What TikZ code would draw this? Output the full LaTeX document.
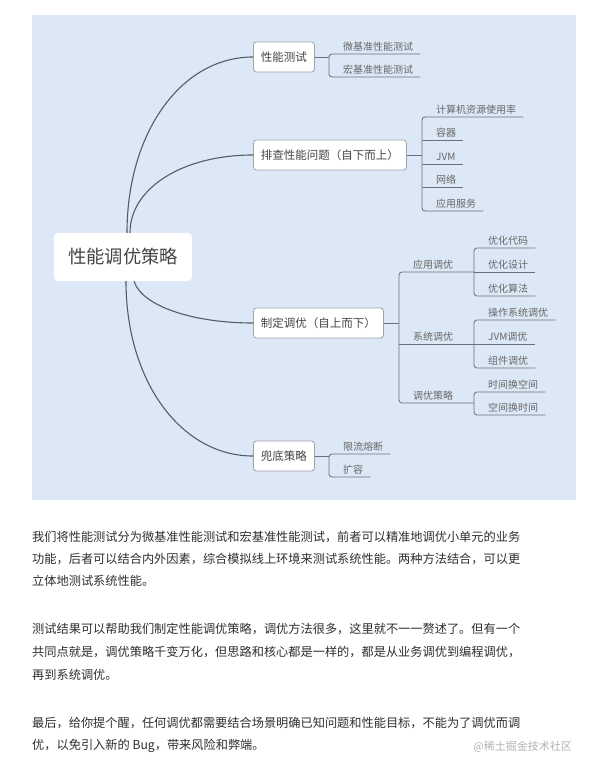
\documentclass[tikz,border=0pt]{standalone}
\usepackage{fontspec}
\setmainfont{Noto Sans CJK SC}
\usetikzlibrary{calc}

\definecolor{mapbg}{HTML}{DDE8F6}
\definecolor{mapline}{HTML}{525D68}
\definecolor{forkline}{HTML}{68727E}
\definecolor{boxline}{HTML}{9CA3AB}
\definecolor{boxtext}{HTML}{444444}
\definecolor{leaftext}{HTML}{666666}
\definecolor{bodytext}{HTML}{2E2E2E}

\tikzset{
  rootbox/.style={fill=white, rounded corners=4pt, minimum width=138pt, minimum height=48pt,
    inner sep=0pt, text=boxtext, font=\fontsize{18.3}{20}\selectfont},
  topicbox/.style={draw=boxline, line width=0.8pt, fill=white, rounded corners=3pt, anchor=west,
    minimum height=30pt, inner xsep=7.5pt, inner ysep=0pt, text=boxtext, font=\fontsize{11.5}{13}\selectfont},
  leaf/.style={anchor=south west, inner sep=0pt, text depth=3.5pt, text=leaftext, font=\fontsize{10}{12}\selectfont},
  curveline/.style={draw=mapline, line width=1.1pt},
  branch/.style={draw=forkline, line width=0.85pt, rounded corners=3pt},
  para/.style={anchor=west, inner sep=0pt, text=bodytext, font=\fontsize{12.2}{14}\selectfont},
}

\begin{document}
\begin{tikzpicture}[x=1pt,y=-1pt]
    \useasboundingbox (0,0) rectangle (601,775);
    \fill[mapbg] (32,15) rectangle (576,500);

    % root and main topics
    \node[rootbox] (root) at (123,257) {性能调优策略};
    \node[topicbox] (test) at (253,57) {性能测试};
    \node[topicbox] (check) at (253,155) {排查性能问题（自下而上）};
    \node[topicbox] (tune) at (253,323) {制定调优（自上而下）};
    \node[topicbox] (safe) at (253,456) {兜底策略};

    \draw[curveline] ([xshift=4pt]root.north) .. controls +(0,-100) and +(-72,0) .. (test.west);
    \draw[curveline] ([xshift=7pt]root.north) .. controls +(0,-45) and +(-70,0) .. (check.west);
    \draw[curveline] ([xshift=11pt]root.south) .. controls +(8,25) and +(-60,0) .. (tune.west);
    \draw[curveline] ([xshift=3pt]root.south) .. controls +(0,100) and +(-72,0) .. (safe.west);

    % 性能测试
    \coordinate (testfork) at (329,57);
        \node[leaf] (micro) at (343,54) {微基准性能测试};
        \node[leaf] (macro) at (343,77) {宏基准性能测试};
    \draw[branch] (test.east) -- (testfork);
    \draw[branch] ([xshift=7pt]micro.south east) -- (micro.south -| testfork) -- (macro.south -| testfork) -- ([xshift=7pt]macro.south east);

    % 排查性能问题
    \coordinate (checkfork) at (422,155);
        \node[leaf] (cpu) at (436,117) {计算机资源使用率};
        \node[leaf] (container) at (436,140) {容器};
        \node[leaf] (jvm) at (436,164) {JVM};
        \node[leaf] (net) at (436,187) {网络};
        \node[leaf] (service) at (436,211) {应用服务};
    \draw[branch] (check.east) -- (checkfork);
    \draw[branch] ([xshift=7pt]cpu.south east) -- (cpu.south -| checkfork) -- (service.south -| checkfork) -- ([xshift=7pt]service.south east);
    \draw[branch] (container.south -| checkfork) -- ([xshift=7pt]container.south east);
    \draw[branch] (jvm.south -| checkfork) -- ([xshift=7pt]jvm.south east);
    \draw[branch] (net.south -| checkfork) -- ([xshift=7pt]net.south east);

    % 制定调优
    \coordinate (tunefork) at (399,323);
        \node[leaf] (apptune) at (413,272) {应用调优};
        \node[leaf] (systune) at (413,344) {系统调优};
        \node[leaf] (strategy) at (413,403) {调优策略};
    \coordinate (appfork) at (474,272);
    \coordinate (sysfork) at (474,344);
    \coordinate (stratfork) at (474,403);
    \draw[branch] (tune.east) -- (tunefork);
    \draw[branch] (appfork) -- (apptune.south -| tunefork) -- (strategy.south -| tunefork) -- (stratfork);
    \draw[branch] (systune.south -| tunefork) -- (sysfork);

        % 应用调优
            \node[leaf] (code) at (488,248) {优化代码};
            \node[leaf] (design) at (488,272) {优化设计};
            \node[leaf] (algo) at (488,296) {优化算法};
        \draw[branch] ([xshift=7pt]code.south east) -- (code.south -| appfork) -- (algo.south -| appfork) -- ([xshift=7pt]algo.south east);
        \draw[branch] (appfork) -- ([xshift=7pt]design.south east);

        % 系统调优
            \node[leaf] (os) at (488,320) {操作系统调优};
            \node[leaf] (jvmtune) at (488,344) {JVM调优};
            \node[leaf] (parts) at (488,368) {组件调优};
        \draw[branch] ([xshift=7pt]os.south east) -- (os.south -| sysfork) -- (parts.south -| sysfork) -- ([xshift=7pt]parts.south east);
        \draw[branch] (sysfork) -- ([xshift=7pt]jvmtune.south east);

        % 调优策略
            \node[leaf] (timespace) at (488,392) {时间换空间};
            \node[leaf] (spacetime) at (488,415) {空间换时间};
        \draw[branch] ([xshift=7pt]timespace.south east) -- (timespace.south -| stratfork) -- (spacetime.south -| stratfork) -- ([xshift=7pt]spacetime.south east);

    % 兜底策略
    \coordinate (safefork) at (329,456);
        \node[leaf] (limit) at (343,454) {限流熔断};
        \node[leaf] (scale) at (343,477) {扩容};
    \draw[branch] (safe.east) -- (safefork);
    \draw[branch] ([xshift=7pt]limit.south east) -- (limit.south -| safefork) -- (scale.south -| safefork) -- ([xshift=7pt]scale.south east);

    % text below the map
    \node[para] (p1) at (32,537) {我们将性能测试分为微基准性能测试和宏基准性能测试，前者可以精准地调优小单元的业务};
    \node[para] (p2) at (32,559) {功能，后者可以结合内外因素，综合模拟线上环境来测试系统性能。两种方法结合，可以更};
    \node[para] (p3) at (32,581) {立体地测试系统性能。};
    \node[para] (p4) at (32,629) {测试结果可以帮助我们制定性能调优策略，调优方法很多，这里就不一一赘述了。但有一个};
    \node[para] (p5) at (32,652) {共同点就是，调优策略千变万化，但思路和核心都是一样的，都是从业务调优到编程调优，};
    \node[para] (p6) at (32,675) {再到系统调优。};
    \node[para] (p7) at (32,723) {最后，给你提个醒，任何调优都需要结合场景明确已知问题和性能目标，不能为了调优而调};
    \node[para] (p8) at (32,746) {优，以免引入新的 Bug，带来风险和弊端。};
    \node[anchor=east, inner sep=0pt, text=black!30, font=\fontsize{11}{13}\selectfont] (mark) at (572,747) {@稀土掘金技术社区};
\end{tikzpicture}
\end{document}
